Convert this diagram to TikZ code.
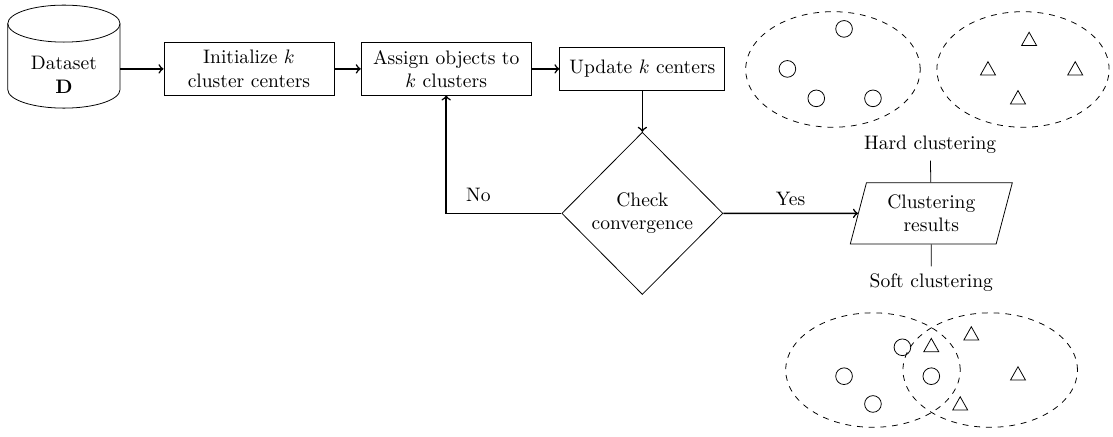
\documentclass[tikz,border=0pt]{standalone}
\usepackage{amsmath}
\usetikzlibrary{shapes.geometric}

\tikzset{
  process/.style={draw, rectangle, align=center, minimum width=3.06cm, minimum height=0.94cm, inner sep=2pt},
  decision/.style={draw, diamond, align=center, minimum width=2.9cm, minimum height=2.92cm, inner sep=1pt},
  iobox/.style={draw, trapezium, trapezium left angle=76, trapezium right angle=104, trapezium stretches=true, align=center, minimum width=2.93cm, minimum height=1.1cm},
  database/.style={align=center, minimum width=2.02cm, inner sep=0pt},
  flow/.style={->, thick},
  cluster/.style={dashed}
}

\begin{document}
\begin{tikzpicture}
  \useasboundingbox (0,0) rectangle (20.03,7.85);
  % data base cylinder
  \node[database] (data) at (1.15,6.5) {Dataset\\$\mathbf{D}$};
  \draw (1.15,7.425) ellipse (1.01cm and 0.333cm);
  \draw (0.14,7.425) -- (0.14,6.237) arc (180:360:1.01cm and 0.333cm) -- (2.16,7.425);

  % flow chart
  \node[process] (init) at (4.48,6.61) {Initialize $k$\\cluster centers};
  \node[process] (assign) at (8.03,6.61) {Assign objects to\\$k$ clusters};
  \node[process, minimum width=2.97cm, minimum height=0.79cm] (update) at (11.56,6.61) {Update $k$ centers};
  \node[decision] (check) at (11.56,4.01) {Check\\convergence};
  \node[iobox] (result) at (16.76,4.01) {Clustering\\results};
  \node (hard) at (16.74,5.24) {Hard clustering};
  \node (soft) at (16.76,2.77) {Soft clustering};

  \draw[flow] (data.east |- init) -- (init);
  \draw[flow] (init) -- (assign);
  \draw[flow] (assign) -- (update);
  \draw[flow] (update) -- (check);
  \draw[flow] (check) -| node[pos=0.36, above=2pt] (no) {No} (assign);
  \draw[flow] (check) -- node[above] (yes) {Yes} (result);
  \draw (result) -- (hard);
  \draw (result) -- (soft);

  % hard clustering
  \draw[cluster] (14.99,6.6) ellipse (1.57cm and 1.04cm);
  \draw[cluster] (18.41,6.6) ellipse (1.55cm and 1.04cm);
  \foreach \x/\y in {15.19/7.33, 14.17/6.61, 14.69/6.08, 15.71/6.08}
    \draw (\x,\y) circle (0.15cm);
  \foreach \x/\y in {18.52/7.15, 17.78/6.62, 19.35/6.62, 18.32/6.1}
    \draw (\x,\y) ++(-0.135,-0.12) -- ++(0.27,0) -- ++(-0.135,0.24) -- cycle;

  % soft clustering
  \draw[cluster] (15.71,1.19) ellipse (1.57cm and 1.03cm);
  \draw[cluster] (17.82,1.19) ellipse (1.57cm and 1.03cm);
  \foreach \x/\y in {16.24/1.6, 15.19/1.08, 16.76/1.08, 15.71/0.58}
    \draw (\x,\y) circle (0.15cm);
  \foreach \x/\y in {16.76/1.64, 17.48/1.85, 18.32/1.13, 17.28/0.59}
    \draw (\x,\y) ++(-0.135,-0.12) -- ++(0.27,0) -- ++(-0.135,0.24) -- cycle;
\end{tikzpicture}
\end{document}
